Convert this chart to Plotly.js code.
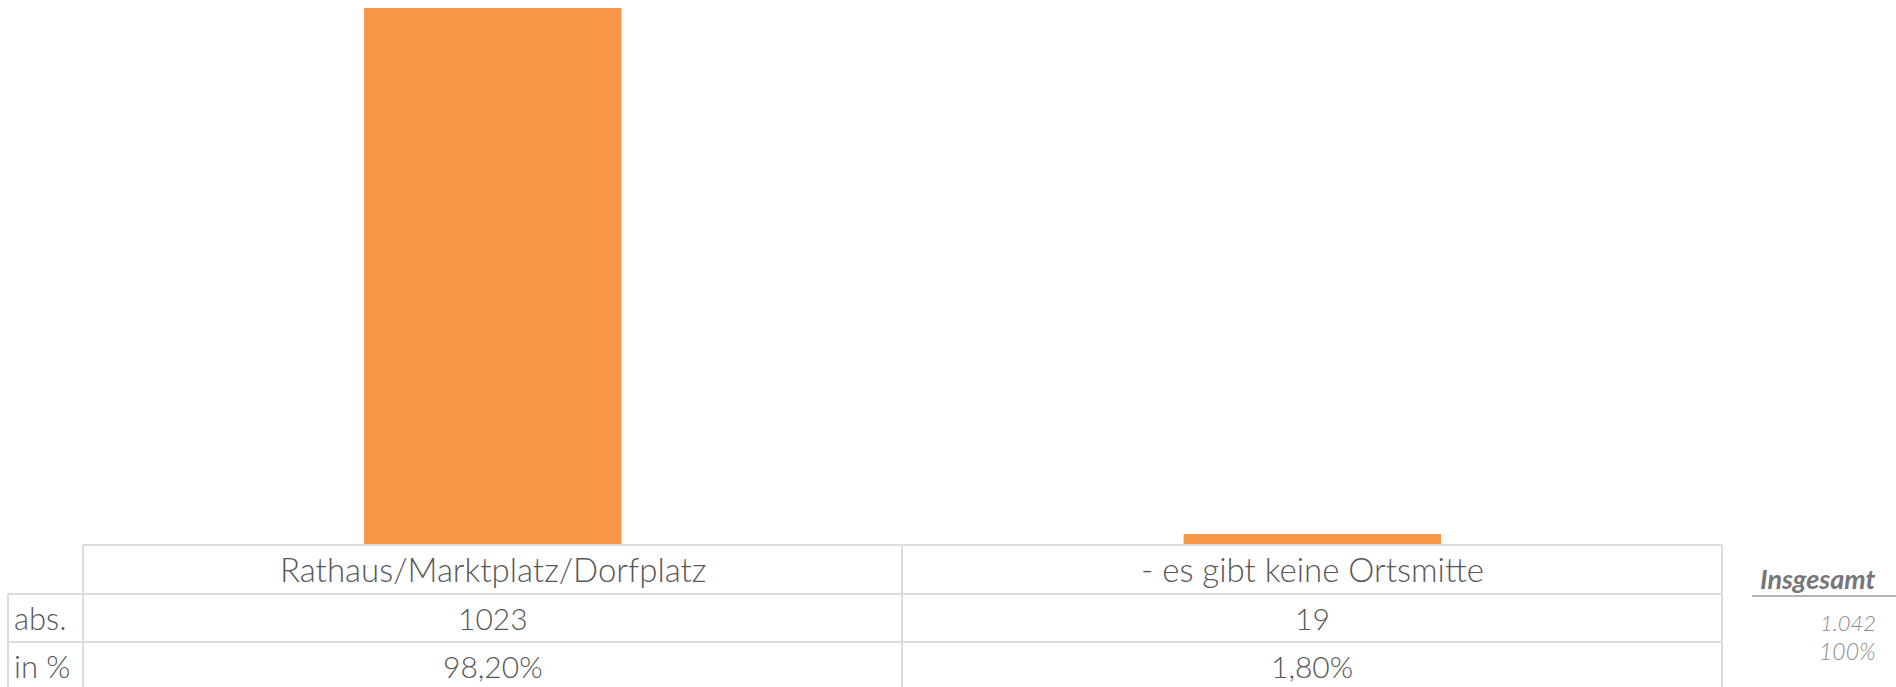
<!DOCTYPE html>
<html>
<head>
<meta charset="utf-8">
<script src="https://cdn.plot.ly/plotly-3.0.1.min.js"></script>
<style>
html,body{margin:0;padding:0;background:#fff;}
#chart{width:1896px;height:687px;}
</style>
</head>
<body>
<div id="chart"></div>
<script>
// Data
var categories = ["Rathaus/Marktplatz/Dorfplatz", "- es gibt keine Ortsmitte"];
var absValues = [1023, 19];
var pctValues = [98.20, 1.80];
var rowLabels = ["abs.", "in %"];
var totalLabel = "Insgesamt";
var totalAbs = 1042;
var totalPct = 100;

var W = 1896, H = 687;
var plotTop = 8, plotBottom = 544;
function py(p){ return (plotBottom - p) / (plotBottom - plotTop); }
function px(p){ return p / W; }

var FONT = "Lato, 'Noto Sans', sans-serif";
var TXT = "#575757";
var GRID = "#dcdcdc";

function fmtPct(v){ return v.toFixed(2).replace('.', ',') + '%'; }
function fmtThousands(v){ return String(v).replace(/\B(?=(\d{3})+(?!\d))/g, '.'); }

var trace = {
  type: 'bar',
  x: categories,
  y: absValues,
  marker: {color: '#F79646'},
  hoverinfo: 'none'
};

var shapes = [];
function hline(y, x0, x1, color, w){
  shapes.push({type:'line', xref:'paper', yref:'paper', x0:px(x0), x1:px(x1), y0:py(y), y1:py(y), line:{color:color||GRID, width:w||2}});
}
function vline(x, y0, y1){
  shapes.push({type:'line', xref:'paper', yref:'paper', x0:px(x), x1:px(x), y0:py(y0), y1:py(y1), line:{color:GRID, width:2}});
}
hline(545, 83, 1722);
hline(594, 8, 1722);
hline(642, 8, 1722);
vline(8, 594, 690);
vline(83, 545, 690);
vline(902, 545, 690);
vline(1722, 545, 690);
hline(596, 1752, 1896, "#9a9a9a", 1.5);

var annotations = [];
var rowY = [569, 618, 666];
categories.forEach(function(c, i){
  annotations.push({xref:'x', yref:'paper', x:c, y:py(rowY[0]), text:c, showarrow:false,
    font:{family:FONT, size:33, color:TXT, weight:300}, xanchor:'center', yanchor:'middle'});
  annotations.push({xref:'x', yref:'paper', x:c, y:py(rowY[1]), text:String(absValues[i]), showarrow:false,
    font:{family:FONT, size:30, color:TXT, weight:300}, xanchor:'center', yanchor:'middle'});
  annotations.push({xref:'x', yref:'paper', x:c, y:py(rowY[2]), text:fmtPct(pctValues[i]), showarrow:false,
    font:{family:FONT, size:30, color:TXT, weight:300}, xanchor:'center', yanchor:'middle'});
});
rowLabels.forEach(function(l, i){
  annotations.push({xref:'paper', yref:'paper', x:px(12), y:py(rowY[i+1]), text:l, showarrow:false,
    font:{family:FONT, size:31, color:TXT, weight:300}, xanchor:'left', yanchor:'middle'});
});
annotations.push({xref:'paper', yref:'paper', x:px(1878), y:py(578), text:'<b><i>'+totalLabel+'</i></b>', showarrow:false,
  font:{family:FONT, size:27, color:'#767676'}, xanchor:'right', yanchor:'middle'});
annotations.push({xref:'paper', yref:'paper', x:px(1878), y:py(622), text:'<i>'+fmtThousands(totalAbs)+'</i>', showarrow:false,
  font:{family:FONT, size:22, color:'#8a8a8a', weight:300}, xanchor:'right', yanchor:'middle'});
annotations.push({xref:'paper', yref:'paper', x:px(1878), y:py(651), text:'<i>'+totalPct+'%</i>', showarrow:false,
  font:{family:FONT, size:23, color:'#8a8a8a', weight:300}, xanchor:'right', yanchor:'middle'});

var layout = {
  width: W, height: H,
  margin: {l:0, r:0, t:plotTop, b:H-plotBottom, pad:0},
  paper_bgcolor:'#fff', plot_bgcolor:'#fff',
  showlegend:false,
  bargap: 0.686,
  xaxis: {domain:[px(83), px(1722)], type:'category', showticklabels:false, showgrid:false, zeroline:false, showline:false, ticks:''},
  yaxis: {range:[0, 1023], showticklabels:false, showgrid:false, zeroline:false, showline:false, ticks:'', fixedrange:true},
  shapes: shapes,
  annotations: annotations
};

Plotly.newPlot('chart', [trace], layout, {displayModeBar:false, staticPlot:true});
</script>
</body>
</html>
